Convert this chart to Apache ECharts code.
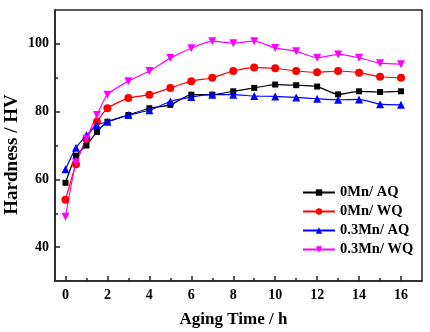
<!DOCTYPE html>
<html>
<head>
<meta charset="utf-8">
<script src="https://cdn.jsdelivr.net/npm/echarts@6/dist/echarts.min.js"></script>
<style>
  html, body { margin: 0; padding: 0; background: #fff; }
  #chart { width: 430px; height: 332px; }
</style>
</head>
<body>
<div id="chart"></div>
<script>
const agingTime = [0, 0.5, 1, 1.5, 2, 3, 4, 5, 6, 7, 8, 9, 10, 11, 12, 13, 14, 15, 16];
const mn0AQ = [59, 67, 70, 74, 77, 79, 81, 82, 85, 85, 86, 87, 88, 87.8, 87.4, 85.1, 86, 85.8, 86];
const mn0WQ = [54, 64.5, 72, 77, 81, 84, 85, 87, 89, 90, 92, 93, 92.8, 92, 91.6, 92, 91.5, 90.3, 90];
const mn03AQ = [63, 69.3, 73, 76, 77, 79, 80.4, 83, 84.3, 85, 85, 84.6, 84.5, 84.2, 83.8, 83.5, 83.6, 82.2, 82];
const mn03WQ = [49, 65, 72, 79, 85, 89, 92, 95.8, 98.7, 100.8, 100.2, 100.8, 98.8, 97.8, 95.9, 96.9, 95.9, 94.3, 94];
const xMajorTicks = [0, 2, 4, 6, 8, 10, 12, 14, 16];
const xMinorTicks = [1, 3, 5, 7, 9, 11, 13, 15];
const yMajorTicks = [40, 60, 80, 100];
const yMinorTicks = [50, 70, 90];

const chart = echarts.init(document.getElementById("chart"));
const font = "'Liberation Serif', 'Times New Roman', serif";
const axisColor = "#222";

function pairs(ys) {
  return agingTime.map((x, i) => [x, ys[i]]);
}

function lineSeries(name, ys, color, symbol, rotate) {
  return {
    name: name,
    type: "line",
    data: pairs(ys),
    smooth: 0.2,
    symbol: symbol,
    symbolSize: symbol === "rect" ? 6 : 8,
    symbolRotate: rotate || 0,
    showSymbol: true,
    lineStyle: { color: color, width: 1.2 },
    itemStyle: { color: color },
  };
}

const option = {
  backgroundColor: "#fff",
  animation: false,
  grid: {
    left: 55,
    top: 10,
    right: 8,
    bottom: 51,
    outerBoundsMode: "none",
    show: true,
    borderColor: axisColor,
    borderWidth: 1.5,
  },
  legend: {
    orient: "vertical",
    left: 297,
    top: 180,
    itemWidth: 32,
    itemHeight: 8,
    itemGap: 4,
    textStyle: { fontFamily: font, fontWeight: "bold", fontSize: 14.5, color: "#000" },
    data: ["0Mn/ AQ", "0Mn/ WQ", "0.3Mn/ AQ", "0.3Mn/ WQ"],
  },
  xAxis: [
    {
      type: "value",
      min: -0.5,
      max: 17,
      name: "Aging Time / h",
      nameLocation: "middle",
      nameGap: 30,
      nameMoveOverlap: false,
      nameTextStyle: { fontFamily: font, fontWeight: "bold", fontSize: 17, color: "#000", padding: [0, 10, 0, 0] },
      axisLine: { show: true, onZero: false, lineStyle: { color: axisColor, width: 1.5 } },
      axisTick: { show: true, inside: true, length: 5, customValues: xMajorTicks, lineStyle: { color: axisColor, width: 1.5 } },
      axisLabel: { customValues: xMajorTicks, margin: 7, fontFamily: font, fontWeight: "bold", fontSize: 14, color: "#000" },
      splitLine: { show: false },
    },
    {
      type: "value",
      position: "bottom",
      min: -0.5,
      max: 17,
      axisLine: { show: false, onZero: false },
      axisTick: { show: true, inside: true, length: 3, customValues: xMinorTicks, lineStyle: { color: axisColor, width: 1.5 } },
      axisLabel: { show: false },
      splitLine: { show: false },
    },
  ],
  yAxis: [
    {
      type: "value",
      min: 30,
      max: 110,
      name: "Hardness / HV",
      nameLocation: "middle",
      nameGap: 33,
      nameMoveOverlap: false,
      nameTextStyle: { fontFamily: font, fontWeight: "bold", fontSize: 19, color: "#000", padding: [0, 18, 0, 0] },
      axisLine: { show: true, onZero: false, lineStyle: { color: axisColor, width: 1.5 } },
      axisTick: { show: true, inside: true, length: 5, customValues: yMajorTicks, lineStyle: { color: axisColor, width: 1.5 } },
      axisLabel: { customValues: yMajorTicks, margin: 6, fontFamily: font, fontWeight: "bold", fontSize: 14, color: "#000" },
      splitLine: { show: false },
    },
    {
      type: "value",
      position: "left",
      min: 30,
      max: 110,
      axisLine: { show: false, onZero: false },
      axisTick: { show: true, inside: true, length: 3, customValues: yMinorTicks, lineStyle: { color: axisColor, width: 1.5 } },
      axisLabel: { show: false },
      splitLine: { show: false },
    },
  ],
  series: [
    lineSeries("0Mn/ AQ", mn0AQ, "#000000", "rect"),
    lineSeries("0Mn/ WQ", mn0WQ, "#ff0000", "circle"),
    lineSeries("0.3Mn/ AQ", mn03AQ, "#0000ff", "triangle"),
    lineSeries("0.3Mn/ WQ", mn03WQ, "#ff00ff", "triangle", 180),
  ],
};

chart.setOption(option);
</script>
</body>
</html>
